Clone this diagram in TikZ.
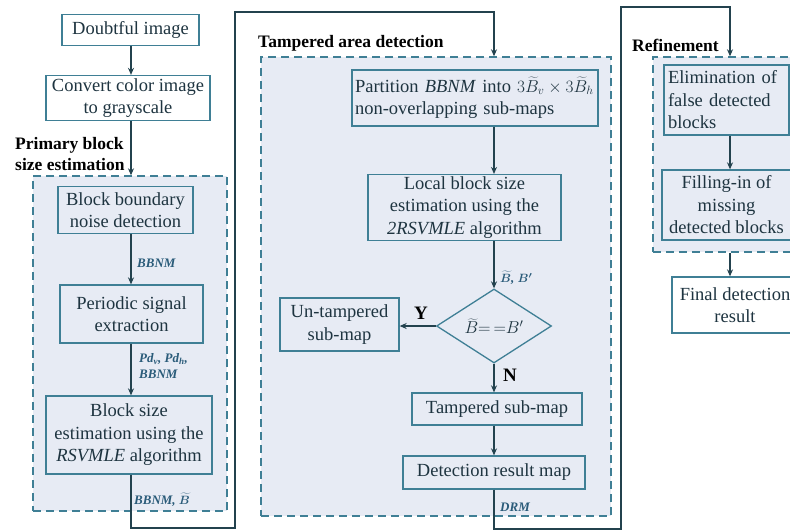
\documentclass[tikz,border=0pt]{standalone}
\usepackage{fontspec}
\setmainfont{Liberation Serif}
\usetikzlibrary{shapes.geometric,arrows.meta}
\definecolor{boxline}{HTML}{3F7F95}
\definecolor{conn}{HTML}{23424E}
\definecolor{panel}{HTML}{E7EBF4}
\definecolor{ink}{HTML}{1E3440}
\definecolor{tagc}{HTML}{2B5C7A}
\begin{document}
\begin{tikzpicture}[x=1pt,y=-1pt,>={Stealth[length=7pt,width=6pt]},font=\fontsize{18.5}{22.5}\selectfont,
  box/.style={draw=boxline,line width=1.3pt,fill=panel,text=ink,align=center,inner sep=2pt},
  plain/.style={box,fill=white},
  region/.style={draw=boxline,line width=1.4pt,dash pattern=on 8pt off 5pt,fill=panel,inner sep=0pt},
  wire/.style={draw=conn,line width=1.2pt},
  tag/.style={text=tagc,font=\fontsize{13}{16}\selectfont\bfseries\itshape\boldmath,anchor=west,inner sep=0pt,align=left},
  head/.style={text=black,font=\fontsize{17.5}{21}\selectfont\bfseries,anchor=west,inner sep=0pt,align=left}]
\clip (0,0) rectangle (790,531);
\fill[white] (0,0) rectangle (790,531);
\node[region,minimum width=194pt,minimum height=335pt] (prim) at (130,343.5) {};
\node[region,minimum width=350pt,minimum height=459pt] (tamp) at (436,286.5) {};
\node[region,minimum width=152pt,minimum height=195pt] (refi) at (729,154.5) {};
\coordinate (coll) at (131,0);
\coordinate (colm) at (494,0);
\coordinate (colr) at (730,0);
\node[plain,minimum width=137pt,minimum height=31pt] (img) at (130.5,30) {Doubtful image};
\node[plain,minimum width=164pt,minimum height=45pt] (gray) at (128,98) {Convert color image\\to grayscale};
\node[box,minimum width=135pt,minimum height=47pt] (bbn) at (125.5,210) {Block boundary\\noise detection};
\node[box,minimum width=143pt,minimum height=58pt] (psig) at (131.5,314) {Periodic signal\\extraction};
\node[box,minimum width=166pt,minimum height=78pt] (bse) at (129,435) {Block size\\estimation using the\\\textit{RSVMLE} algorithm};
\node[box,align=left,text width=240pt,inner sep=3pt,minimum height=56pt] (part) at (475,98) {Partition \textit{BBNM} into $3\widetilde{B}_v\times3\widetilde{B}_h$\\non-overlapping sub-maps};
\node[box,minimum width=193pt,minimum height=65pt] (loc) at (464.5,207.5) {Local block size\\estimation using the\\\textit{2RSVMLE} algorithm};
\node[box,shape=diamond,minimum width=115pt,minimum height=66pt,inner sep=0pt] (dec) at (494,326) {$\widetilde{B}{=}\,{=}B'$};
\node[box,minimum width=119pt,minimum height=53pt] (unt) at (339.5,324.5) {Un-tampered\\sub-map};
\node[box,minimum width=170pt,minimum height=32pt] (tam) at (497,409) {Tampered sub-map};
\node[box,minimum width=182pt,minimum height=33pt] (drm) at (494,472.5) {Detection result map};
\node[box,align=left,text width=117pt,inner sep=4pt,minimum height=70pt] (elim) at (726.5,100) {Elimination of\\false detected\\blocks};
\node[box,minimum width=129pt,minimum height=70pt] (fill) at (726.5,205) {Filling-in of\\missing\\detected blocks};
\node[plain,minimum width=126pt,minimum height=56pt] (fin) at (735,305) {Final detection\\result};
\coordinate (lo1) at (235,528);
\coordinate (hi1) at (235,12);
\coordinate (lo2) at (621,529);
\coordinate (hi2) at (621,7);
\draw[wire,->] (img.south -| coll) -- (gray.north -| coll);
\draw[wire,->] (gray.south -| coll) -- (prim.north -| coll);
\draw[wire,->] (bbn.south -| coll) -- (psig.north -| coll);
\draw[wire,->] (psig.south -| coll) -- (bse.north -| coll);
\draw[wire,->] (bse.south -| coll) |- (lo1) -- (hi1) -| (tamp.north -| colm);
\draw[wire,->] (part.south -| colm) -- (loc.north -| colm);
\draw[wire,->] (loc.south -| colm) -- (dec.north);
\draw[wire,->] (dec.west) -- (dec.west -| unt.east);
\draw[wire,->] (dec.south) -- (tam.north -| colm);
\draw[wire,->] (tam.south -| colm) -- (drm.north -| colm);
\draw[wire,->] (drm.south -| colm) |- (lo2) -- (hi2) -| (refi.north -| colr);
\draw[wire,->] (elim.south -| colr) -- (fill.north -| colr);
\draw[wire,->] (refi.south -| colr) -- (fin.north -| colr);
\node[tag] (t1) at (137,263) {BBNM};
\node[tag] (t2) at (139,366) {Pd\textsubscript{v}, Pd\textsubscript{h},\\BBNM};
\node[tag] (t3) at (134,500) {BBNM, $\widetilde{B}$};
\node[tag] (t4) at (500,278) {$\widetilde{B}$, $B'$};
\node[tag] (t5) at (500,507) {DRM};
\node[head,font=\fontsize{19}{22}\selectfont\bfseries] (yes) at (414,313) {Y};
\node[head,font=\fontsize{19}{22}\selectfont\bfseries] (no) at (503,375) {N};
\node[head] (h1) at (15,154) {Primary block\\size estimation};
\node[head] (h2) at (258,43) {Tampered area detection};
\node[head] (h3) at (632,45) {Refinement};
\end{tikzpicture}
\end{document}
